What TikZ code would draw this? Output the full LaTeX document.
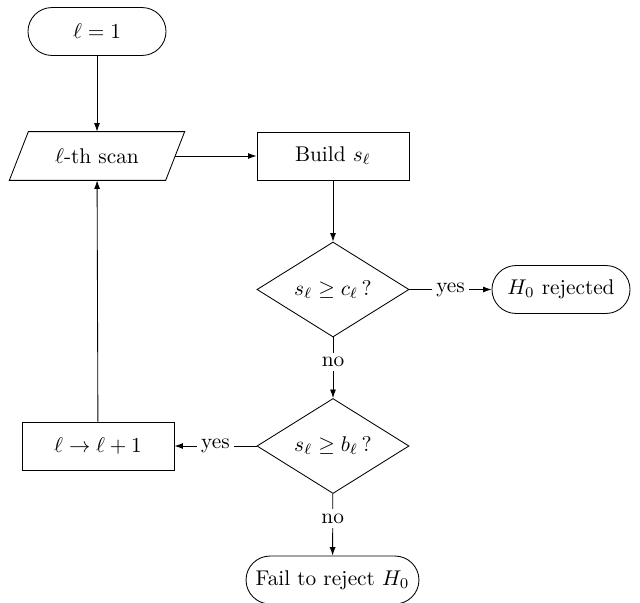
\documentclass[tikz,border=0pt]{standalone}
\usetikzlibrary{shapes.geometric,arrows.meta,calc}
\begin{document}
\begin{tikzpicture}[x=0.4695pt,y=-0.4695pt,
  >={Latex[length=4pt,width=2.8pt]},
  terminal/.style={draw, rounded corners=11.25pt, minimum width=64.8pt,
    minimum height=22.5pt, inner sep=3pt},
  iobox/.style={minimum width=73pt, minimum height=22.5pt},
  procbox/.style={draw, minimum width=71.4pt, minimum height=22.5pt},
  decision/.style={draw, diamond, aspect=1.6, inner sep=1pt,
    minimum width=71.4pt, minimum height=44.6pt},
  edgelabel/.style={fill=white, inner sep=2pt}]
\useasboundingbox (0,0) rectangle (640,603);

% nodes
\node[terminal] (start) at (97,31.5) {$\ell=1$};
\node[iobox] (scan) at (97,156) {$\ell$-th scan};
% slanted outline of the input box
\draw ($(scan.north west)+(9.5,0)$) -- ($(scan.north east)+(9.5,0)$)
  -- ($(scan.south east)+(-9.5,0)$) -- ($(scan.south west)+(-9.5,0)$) -- cycle;
\node[procbox] (build) at (333,156) {Build $s_\ell$};
\node[decision] (d1) at (333,289.5) {$s_\ell \geq c_\ell\,?$};
\node[terminal] (rej) at (561,289.5) {$H_0$ rejected};
\node[decision] (d2) at (333,446) {$s_\ell \geq b_\ell\,?$};
\node[procbox] (inc) at (98,446) {$\ell \to \ell+1$};
\node[terminal, minimum width=81.2pt] (fail) at (332.5,580) {Fail to reject $H_0$};

% connectors
\draw[->] (start) -- (scan);
\draw[->] (scan) -- (build);
\draw[->] (build) -- (d1);
\draw[->] (d1) -- node[edgelabel] {yes} (rej);
\draw[->] (d1) -- node[edgelabel, pos=0.4] {no} (d2);
\draw[->] (d2) -- node[edgelabel] {yes} (inc);
\draw[->] (d2) -- node[edgelabel, pos=0.4] {no} (fail);
\draw[->] (inc) -- (scan);
\end{tikzpicture}
\end{document}
